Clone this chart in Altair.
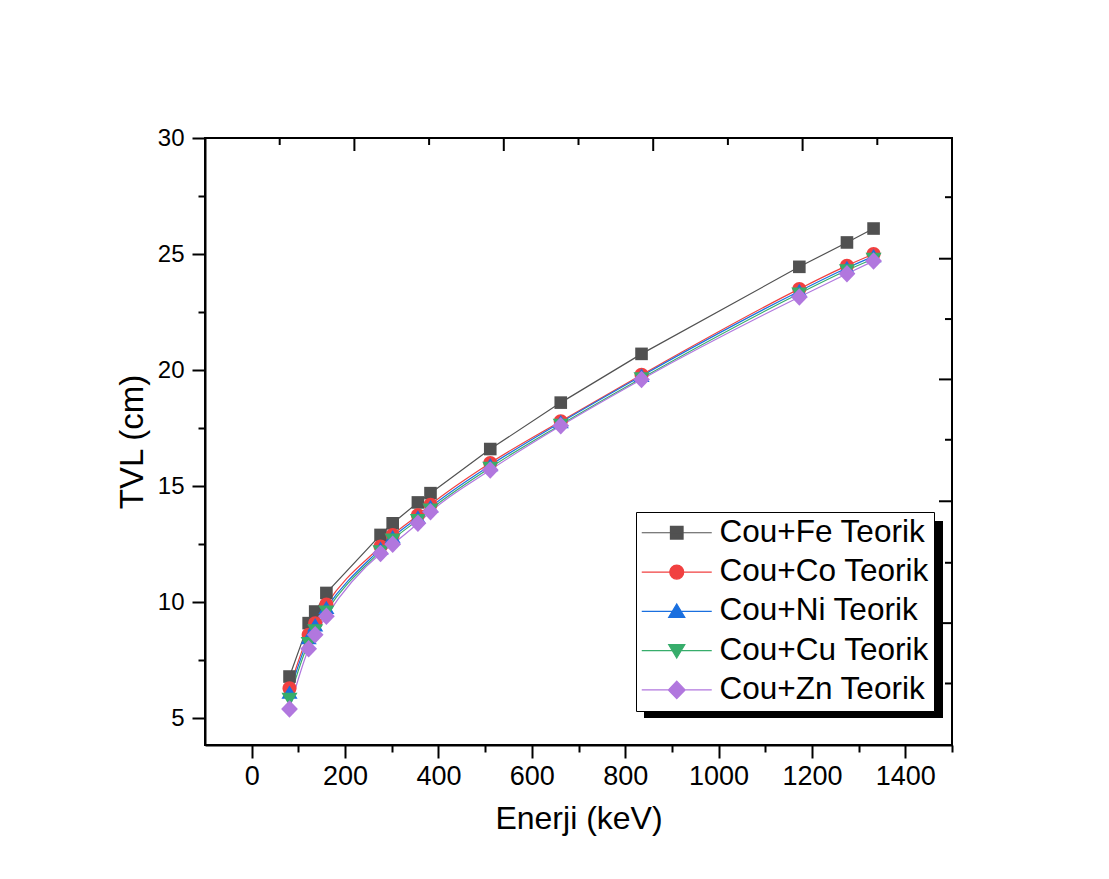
import altair as alt
import pandas as pd

# ---------------- data ----------------
energy_kev = [81, 122, 136, 160, 276, 302, 356, 383, 511, 662, 835, 1173, 1275, 1332]
series_names = ["Cou+Fe Teorik", "Cou+Co Teorik", "Cou+Ni Teorik", "Cou+Cu Teorik", "Cou+Zn Teorik"]
tvl_fe = [6.8, 9.1, 9.6, 10.4, 12.9, 13.4, 14.3, 14.7, 16.6, 18.6, 20.7, 24.45, 25.5, 26.1]
tvl_co = [6.3, 8.6, 9.1, 9.9, 12.4, 12.9, 13.75, 14.2, 16.0, 17.8, 19.8, 23.5, 24.5, 25.0]
tvl_ni = [6.1, 8.45, 9.0, 9.75, 12.3, 12.8, 13.65, 14.1, 15.9, 17.75, 19.75, 23.4, 24.4, 24.9]
tvl_cu = [5.85, 8.25, 8.8, 9.6, 12.2, 12.7, 13.55, 14.0, 15.8, 17.65, 19.65, 23.3, 24.3, 24.8]
tvl_zn = [5.4, 8.0, 8.6, 9.4, 12.1, 12.5, 13.4, 13.9, 15.7, 17.6, 19.6, 23.15, 24.15, 24.7]

series_colors = ["#515151", "#F14040", "#1A6FDF", "#37AD6B", "#B177DE"]
line_interp = ["linear", "monotone", "monotone", "monotone", "monotone"]

x_tick_values = [0, 100, 200, 300, 400, 500, 600, 700, 800, 900, 1000, 1100, 1200, 1300, 1400, 1500]
y_tick_values = [5, 7.5, 10, 12.5, 15, 17.5, 20, 22.5, 25, 27.5, 30]
top_ticks_major = [220, 540, 860, 1180]
top_ticks_minor = [60, 380, 700, 1020, 1340]
right_ticks_major = [24.8, 19.6, 14.35, 9.1]
right_ticks_minor = [27.45, 22.2, 17.0, 11.7, 6.5]

# marker shapes (custom symbol paths, unit = sqrt(size)/2)
marker_paths = [
    "M-0.9,-0.9H0.9V0.9H-0.9Z",
    "M-1,0A1,1,0,1,1,1,0A1,1,0,1,1,-1,0Z",
    "M0,-1.05L1.15,0.85L-1.15,0.85Z",
    "M0,1.05L1.15,-0.85L-1.15,-0.85Z",
    "M0,-1.25L1.2,0L0,1.25L-1.2,0Z",
]
legend_paths = ["M-5,0H5" + p for p in marker_paths]

# ---------------- tables ----------------
rows = []
for name, vals in zip(series_names, [tvl_fe, tvl_co, tvl_ni, tvl_cu, tvl_zn]):
    for e, v in zip(energy_kev, vals):
        rows.append({"series": name, "energy": e, "tvl": v})
df = pd.DataFrame(rows)

W, H = 747, 607
FONT = "Liberation Sans"

xscale = alt.Scale(domain=[-100, 1500], nice=False, zero=False)
yscale = alt.Scale(domain=[3.85, 30], nice=False, zero=False)

x_axis = alt.Axis(
    values=x_tick_values, format="d",
    labelExpr="datum.value % 200 === 0 ? datum.label : ''",
    tickSize={"condition": {"test": "datum.value % 200 === 0", "value": 13}, "value": 7},
    tickWidth=2, tickColor="black", domainWidth=2, domainColor="black",
    labelFont="Liberation Sans Narrow, Liberation Sans", labelFontSize=27, labelColor="black",
    labelPadding=5, labelFlush=False,
    title="Enerji (keV)", titleFont=FONT, titleFontSize=32, titleFontWeight="normal",
    titleColor="black", titlePadding=14, grid=False,
)
y_axis = alt.Axis(
    values=y_tick_values,
    labelExpr="datum.value % 5 === 0 ? datum.label : ''",
    tickSize={"condition": {"test": "datum.value % 5 === 0", "value": 13}, "value": 7},
    tickWidth=2, tickColor="black", domainWidth=2, domainColor="black",
    labelFont=FONT, labelFontSize=24, labelColor="black", labelPadding=8, labelFlush=False,
    title="TVL (cm)", titleFont=FONT, titleFontSize=33, titleFontWeight="normal",
    titleColor="black", titlePadding=8, grid=False,
)

x_enc = alt.X("energy:Q", scale=xscale, axis=x_axis)
y_enc = alt.Y("tvl:Q", scale=yscale, axis=y_axis)

leg = alt.Legend(
    title=None, orient="none", legendX=431, legendY=374,
    fillColor="white", strokeColor="black", padding=5, rowPadding=6.3,
    labelFont=FONT, labelFontSize=31.5, labelColor="black", labelLimit=0,
    labelOffset=27, symbolOffset=20, symbolSize=196, symbolStrokeWidth=1.2,
    symbolOpacity=1,
)

base = alt.Chart(df)

shadow = alt.Chart(pd.DataFrame({"k": [0]})).mark_rect(color="black").encode(
    x=alt.value(439), x2=alt.value(738), y=alt.value(383), y2=alt.value(580)
)

line_layers = []
point_layers = []
for name, col, path, interp in zip(series_names, series_colors, marker_paths, line_interp):
    sub = base.transform_filter(alt.datum.series == name)
    line_layers.append(
        sub.mark_line(strokeWidth=1.2, color=col, interpolate=interp).encode(x=x_enc, y=y_enc)
    )
    point_layers.append(
        sub.mark_point(filled=True, size=196, opacity=1, shape=path, color=col).encode(x=x_enc, y=y_enc)
    )

legend_layer = base.mark_point(filled=True, size=196, opacity=0).encode(
    x=x_enc, y=y_enc,
    fill=alt.Fill("series:N", scale=alt.Scale(domain=series_names, range=series_colors), legend=leg),
    stroke=alt.Stroke("series:N", scale=alt.Scale(domain=series_names, range=series_colors), legend=leg),
    shape=alt.Shape("series:N", scale=alt.Scale(domain=series_names, range=legend_paths), legend=leg),
)

top_major = alt.Chart(pd.DataFrame({"energy": top_ticks_major})).mark_rule(color="black", strokeWidth=2).encode(
    x=x_enc, y=alt.value(0), y2=alt.value(13)
)
top_minor = alt.Chart(pd.DataFrame({"energy": top_ticks_minor})).mark_rule(color="black", strokeWidth=2).encode(
    x=x_enc, y=alt.value(0), y2=alt.value(7)
)
right_major = alt.Chart(pd.DataFrame({"tvl": right_ticks_major})).mark_rule(color="black", strokeWidth=2).encode(
    y=y_enc, x=alt.value(W), x2=alt.value(W - 13)
)
right_minor = alt.Chart(pd.DataFrame({"tvl": right_ticks_minor})).mark_rule(color="black", strokeWidth=2).encode(
    y=y_enc, x=alt.value(W), x2=alt.value(W - 7)
)

chart = (
    alt.layer(shadow, *line_layers, *point_layers, legend_layer,
              top_major, top_minor, right_major, right_minor)
    .properties(
        width=W, height=H,
        padding={"left": 205, "top": 138, "right": 157, "bottom": 134},
        autosize=alt.AutoSizeParams(type="none"),
        background="white",
    )
    .configure_view(stroke="black", strokeWidth=2)
    .configure_legend(strokeWidth=1)
)

chart.save("out.html", embed_options={"renderer": "svg", "actions": False})
